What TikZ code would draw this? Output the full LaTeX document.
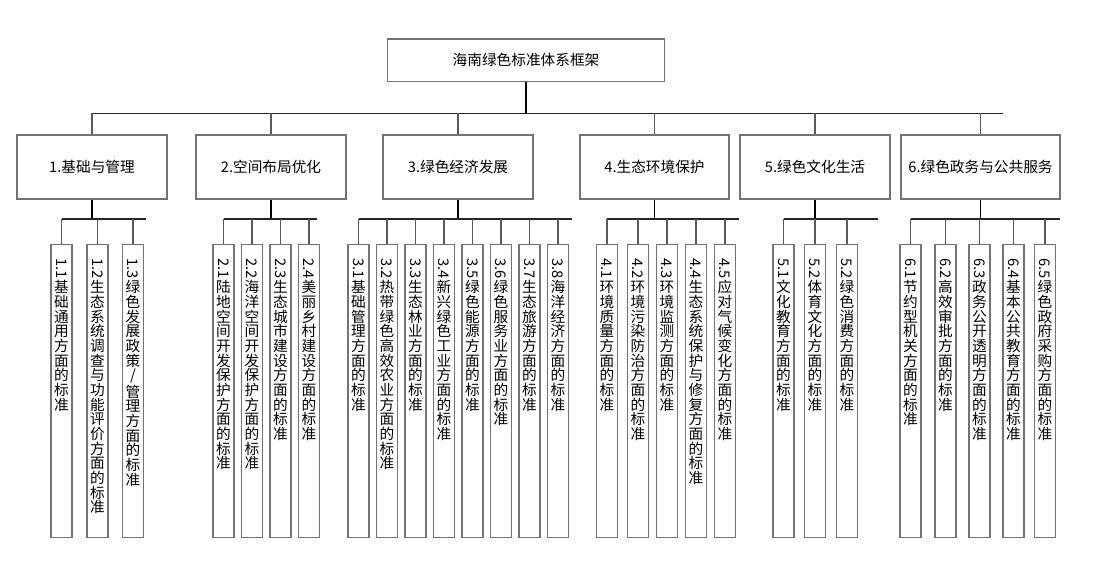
\documentclass[tikz,border=0pt]{standalone}
\usepackage{fontspec}
\usepackage{graphicx}
\newfontfamily\cjk{Noto Sans CJK SC}

% vertical text for the narrow boxes
\def\vchars#1{\ifx#1\relax\else\hbox to\hsize{\hss#1\hss}\expandafter\vchars\fi}
\newcommand{\vlabel}[2]{\vbox to 220pt{\hsize=16pt\baselineskip=11pt\lineskiplimit=0pt\lineskip=1pt
  \vskip10.9pt
  \vbox to14.5pt{\hbox to\hsize{\hss\rotatebox{-90}{#1}\hss}\vss}
  \vchars#2\relax\vss}}

\tikzset{
  rootbox/.style={draw=black!55, line width=1.1pt, minimum width=208pt, minimum height=32pt, font=\cjk\fontsize{11pt}{13pt}\selectfont},
  topbox/.style={draw=black!55, line width=1.1pt, minimum width=112.5pt, minimum height=47.8pt, font=\cjk\fontsize{11pt}{13pt}\selectfont},
  leafbox/.style={draw=black!55, line width=1.1pt, inner sep=0pt, anchor=north, font=\cjk\fontsize{11pt}{11pt}\selectfont},
  trunk/.style={black, line width=1.4pt},
  bus/.style={black!85, line width=1pt},
  drop/.style={black!65, line width=1pt},
}

\begin{document}
\begin{tikzpicture}[x=0.75pt, y=-0.75pt]
\useasboundingbox (0,0) rectangle (1115,575);

% root
\node[rootbox] (root) at (526,60.3) {海南绿色标准体系框架};

% main bus
\coordinate (busL) at (92,113.3);
\coordinate (busR) at (1003,113.3);

% six groups
\node[topbox] (b1) at (92,167) {1.基础与管理};
\node[topbox] (b2) at (271,167) {2.空间布局优化};
\node[topbox] (b3) at (458,167) {3.绿色经济发展};
\node[topbox, minimum width=111.8pt] (b4) at (654.5,167) {4.生态环境保护};
\node[topbox] (b5) at (815,167) {5.绿色文化生活};
\node[topbox, minimum width=119.3pt] (b6) at (980.5,167) {6.绿色政务与公共服务};

\draw[trunk] (root.south) -- (root.south |- busL);
\draw[bus] (busL) -- (busR);
\foreach \b in {b1,b2,b3,b4,b5,b6}
  \draw[drop] (\b.north) -- (\b.north |- busL);

% group 1
\coordinate (s1R) at (146,219);
\node[leafbox] (l11) at (61.5,243.5) {\vlabel{1.1}{基础通用方面的标准}};
\node[leafbox] (l12) at (97.5,243.5) {\vlabel{1.2}{生态系统调查与功能评价方面的标准}};
\node[leafbox] (l13) at (133,243.5) {\vlabel{1.3}{绿色发展政策/管理方面的标准}};
\draw[trunk] (b1.south) -- (b1.south |- s1R);
\draw[bus] (l11.north |- s1R) -- (s1R);
\foreach \l in {l11,l12,l13}
  \draw[drop] (\l.north) -- (\l.north |- s1R);

% group 2
\coordinate (s2R) at (317,219);
\node[leafbox] (l21) at (223.5,243.5) {\vlabel{2.1}{陆地空间开发保护方面的标准}};
\node[leafbox] (l22) at (252,243.5) {\vlabel{2.2}{海洋空间开发保护方面的标准}};
\node[leafbox] (l23) at (280.5,243.5) {\vlabel{2.3}{生态城市建设方面的标准}};
\node[leafbox] (l24) at (309,243.5) {\vlabel{2.4}{美丽乡村建设方面的标准}};
\draw[trunk] (b2.south) -- (b2.south |- s2R);
\draw[bus] (l21.north |- s2R) -- (s2R);
\foreach \l in {l21,l22,l23,l24}
  \draw[drop] (\l.north) -- (\l.north |- s2R);

% group 3
\coordinate (s3R) at (572,219);
\node[leafbox] (l31) at (358.5,243.5) {\vlabel{3.1}{基础管理方面的标准}};
\node[leafbox] (l32) at (387,243.5) {\vlabel{3.2}{热带绿色高效农业方面的标准}};
\node[leafbox] (l33) at (415.5,243.5) {\vlabel{3.3}{生态林业方面的标准}};
\node[leafbox] (l34) at (444,243.5) {\vlabel{3.4}{新兴绿色工业方面的标准}};
\node[leafbox] (l35) at (472.5,243.5) {\vlabel{3.5}{绿色能源方面的标准}};
\node[leafbox] (l36) at (501,243.5) {\vlabel{3.6}{绿色服务业方面的标准}};
\node[leafbox] (l37) at (529.5,243.5) {\vlabel{3.7}{生态旅游方面的标准}};
\node[leafbox] (l38) at (558,243.5) {\vlabel{3.8}{海洋经济方面的标准}};
\draw[trunk] (b3.south) -- (b3.south |- s3R);
\draw[bus] (l31.north |- s3R) -- (s3R);
\foreach \l in {l31,l32,l33,l34,l35,l36,l37,l38}
  \draw[drop] (\l.north) -- (\l.north |- s3R);

% group 4
\coordinate (s4R) at (739,219);
\node[leafbox] (l41) at (607,243.5) {\vlabel{4.1}{环境质量方面的标准}};
\node[leafbox] (l42) at (638,243.5) {\vlabel{4.2}{环境污染防治方面的标准}};
\node[leafbox] (l43) at (667,243.5) {\vlabel{4.3}{环境监测方面的标准}};
\node[leafbox] (l44) at (696,243.5) {\vlabel{4.4}{生态系统保护与修复方面的标准}};
\node[leafbox] (l45) at (725,243.5) {\vlabel{4.5}{应对气候变化方面的标准}};
\draw[trunk] (b4.south) -- (b4.south |- s4R);
\draw[bus] (l41.north |- s4R) -- (s4R);
\foreach \l in {l41,l42,l43,l44,l45}
  \draw[drop] (\l.north) -- (\l.north |- s4R);

% group 5
\coordinate (s5R) at (878,219);
\node[leafbox] (l51) at (783.5,243.5) {\vlabel{5.1}{文化教育方面的标准}};
\node[leafbox] (l52) at (815,243.5) {\vlabel{5.2}{体育文化方面的标准}};
\node[leafbox] (l53) at (847,243.5) {\vlabel{5.2}{绿色消费方面的标准}};
\draw[trunk] (b5.south) -- (b5.south |- s5R);
\draw[bus] (l51.north |- s5R) -- (s5R);
\foreach \l in {l51,l52,l53}
  \draw[drop] (\l.north) -- (\l.north |- s5R);

% group 6
\coordinate (s6R) at (1060,219);
\node[leafbox] (l61) at (910.5,243.5) {\vlabel{6.1}{节约型机关方面的标准}};
\node[leafbox] (l62) at (945.5,243.5) {\vlabel{6.2}{高效审批方面的标准}};
\node[leafbox] (l63) at (979.5,243.5) {\vlabel{6.3}{政务公开透明方面的标准}};
\node[leafbox] (l64) at (1013.5,243.5) {\vlabel{6.4}{基本公共教育方面的标准}};
\node[leafbox] (l65) at (1045,243.5) {\vlabel{6.5}{绿色政府采购方面的标准}};
\draw[trunk] (b6.south) -- (b6.south |- s6R);
\draw[bus] (l61.north |- s6R) -- (s6R);
\foreach \l in {l61,l62,l63,l64,l65}
  \draw[drop] (\l.north) -- (\l.north |- s6R);

\end{tikzpicture}
\end{document}
